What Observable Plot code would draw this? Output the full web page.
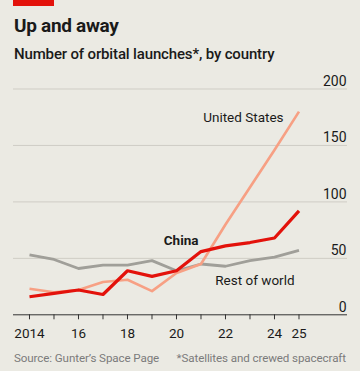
<!DOCTYPE html>
<html>
<head>
<meta charset="utf-8">
<script src="https://cdn.jsdelivr.net/npm/d3@7"></script>
<script src="https://cdn.jsdelivr.net/npm/@observablehq/plot@0.6"></script>
<style>
  html, body { margin: 0; padding: 0; }
  body { width: 360px; height: 371px; background: #ebeae3; position: relative; overflow: hidden; font-family: Roboto, "Liberation Sans", sans-serif; color: #1a1a1a; }
  #bar { position: absolute; left: 13px; top: 0; width: 41px; height: 6px; background: #e3120b; }
  #title { position: absolute; left: 14px; top: 14px; font-size: 19px; font-weight: 700; line-height: 24px; letter-spacing: -0.3px; }
  #subtitle { position: absolute; left: 14px; top: 44px; font-size: 15px; font-weight: 500; line-height: 20px; letter-spacing: -0.15px; }
  #chart { position: absolute; left: 0; top: 70px; }
  #source { position: absolute; left: 14px; top: 350px; font-size: 11.6px; color: #7b7b7b; line-height: 16px; letter-spacing: -0.1px; }
  #note { position: absolute; right: 14px; top: 350px; font-size: 11.6px; color: #7b7b7b; line-height: 16px; letter-spacing: -0.1px; }
</style>
</head>
<body>
<div id="bar"></div>
<div id="title">Up and away</div>
<div id="subtitle">Number of orbital launches*, by country</div>
<div id="chart"></div>
<div id="source">Source: Gunter’s Space Page</div>
<div id="note">*Satellites and crewed spacecraft</div>
<script>
const years = [2014, 2015, 2016, 2017, 2018, 2019, 2020, 2021, 2022, 2023, 2024, 2025];
const unitedStates = [23, 20, 22, 29, 31, 21, 37, 45, 80, 113, 146, 180];
const china = [16, 19, 22, 18, 39, 34, 39, 56, 61, 64, 68, 92];
const restOfWorld = [53, 49, 41, 44, 44, 48, 39, 45, 43, 48, 51, 57];
const yTicks = [0, 50, 100, 150, 200];
const xTicks = [2014, 2016, 2018, 2020, 2022, 2024, 2025];
const seriesNames = ["Rest of world", "United States", "China"];
const labels = [
  {name: "United States", x: 2024.37, y: 174.5, weight: 400},
  {name: "China", x: 2020.9, y: 65.8, weight: 700},
  {name: "Rest of world", x: 2024.82, y: 30.5, weight: 400}
];

const rows = [];
seriesNames.forEach((name, i) => {
  const vals = [restOfWorld, unitedStates, china][i];
  years.forEach((yr, j) => rows.push({series: name, year: yr, value: vals[j]}));
});

const colors = {"Rest of world": "#a09f99", "United States": "#f7a084", "China": "#e3120b"};
const widths = {"Rest of world": 2.8, "United States": 2.6, "China": 3.2};

const chart = Plot.plot({
  width: 360,
  height: 275,
  marginTop: 18.5,
  marginBottom: 30.7,
  marginLeft: 13,
  marginRight: 13,
  style: {background: "transparent", fontFamily: "Roboto, sans-serif", fontSize: "14px", color: "#1a1a1a"},
  x: {domain: [2013.347, 2026.98], axis: null},
  y: {domain: [0, 200], axis: null},
  marks: [
    Plot.ruleY(yTicks.filter(d => d > 0), {stroke: "#cfcdc5", strokeWidth: 1}),
    Plot.text(yTicks, {y: d => d, text: d => String(d), frameAnchor: "right", textAnchor: "end", lineAnchor: "bottom", dy: -3, dx: -1, fontSize: 14, fill: "#1a1a1a"}),
    ...seriesNames.map(name => Plot.line(rows.filter(r => r.series === name), {x: "year", y: "value", stroke: colors[name], strokeWidth: widths[name], strokeLinejoin: "round", strokeLinecap: "butt"})),
    Plot.ruleY([0], {stroke: "#333", strokeWidth: 1}),
    Plot.axisX({ticks: years, tickSize: 5, tickFormat: () => "", stroke: "#333"}),
    Plot.axisX({ticks: xTicks, tickSize: 0, tickPadding: 14, tickFormat: d => d === 2014 ? "2014" : String(d).slice(2), fontSize: 13.5, fill: "#1a1a1a"}),
    Plot.text(labels.filter(d => d.weight === 400), {x: "x", y: "y", text: "name", textAnchor: "end", fontSize: 13.5, fill: "#1a1a1a"}),
    Plot.text(labels.filter(d => d.weight === 700), {x: "x", y: "y", text: "name", textAnchor: "end", fontSize: 13.5, fontWeight: 700, fill: "#1a1a1a"})
  ]
});
document.getElementById("chart").appendChild(chart);
</script>
</body>
</html>
